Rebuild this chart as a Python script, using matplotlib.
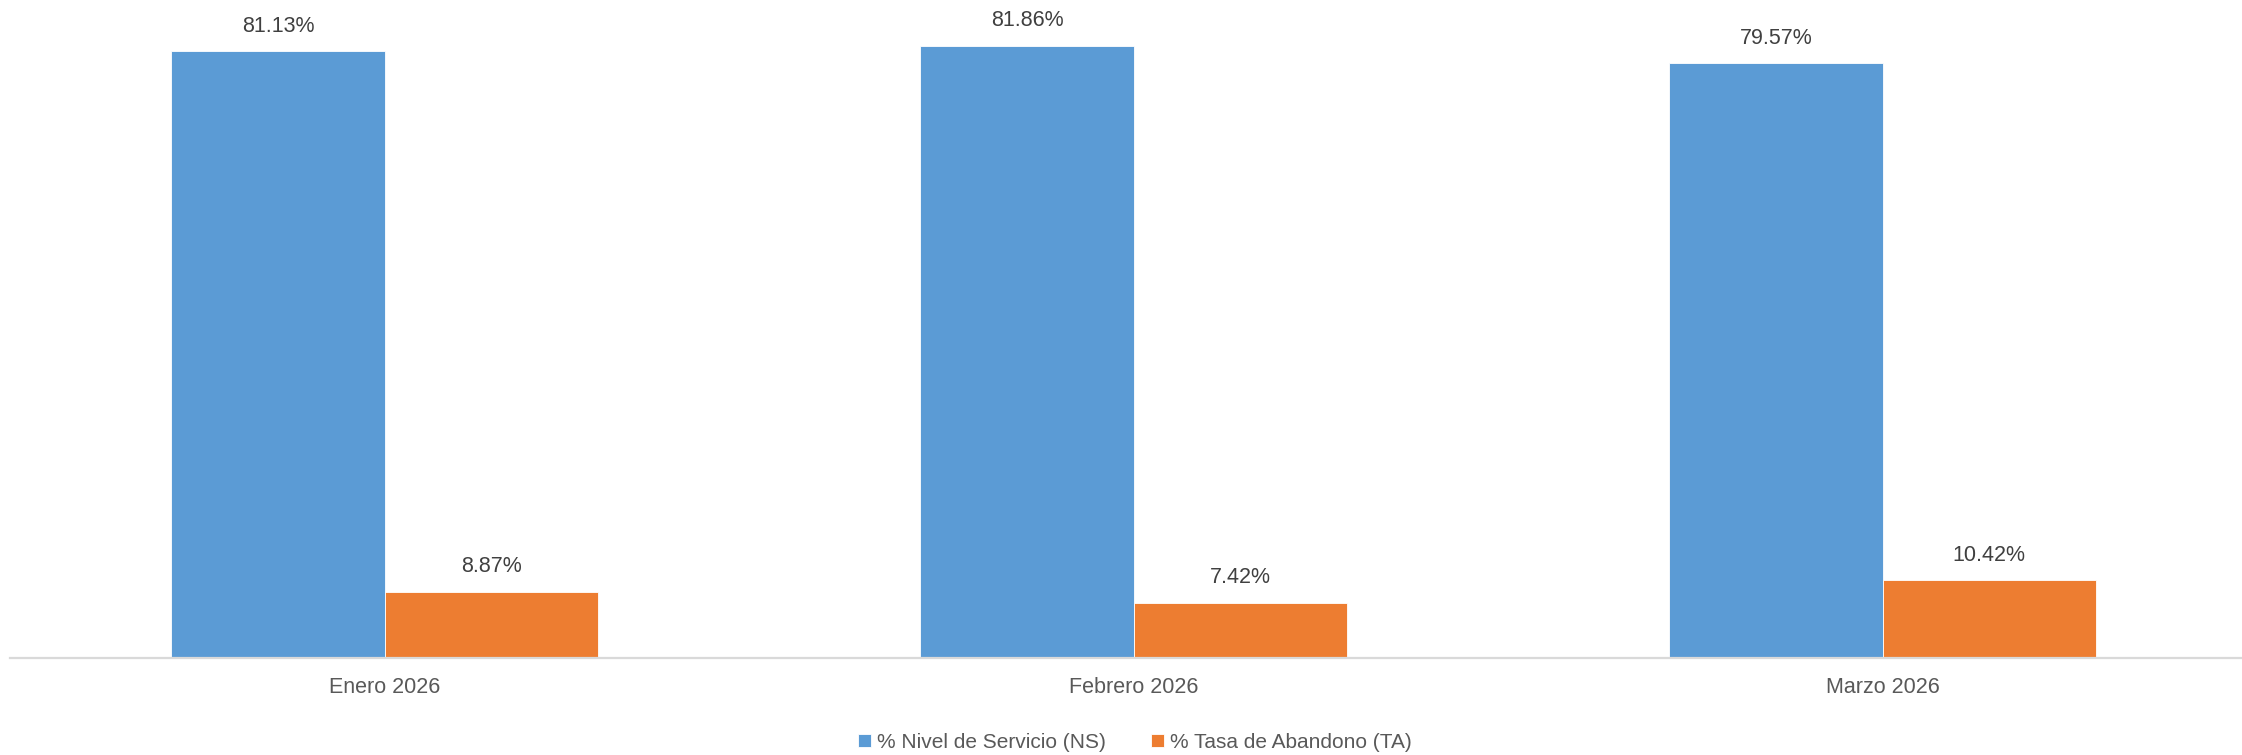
import matplotlib

matplotlib.use("Agg")

import matplotlib.pyplot as plt
import numpy as np

plt.rcParams["font.family"] = ["Liberation Sans", "DejaVu Sans"]

MONTHS = ["Enero 2026", "Febrero 2026", "Marzo 2026"]
NIVEL_SERVICIO = [81.13, 81.86, 79.57]
TASA_ABANDONO = [8.87, 7.42, 10.42]
SERIES_NAMES = ["% Nivel de Servicio (NS)", "% Tasa de Abandono (TA)"]
COLORS = ["#5B9BD5", "#ED7D31"]


def main():
    fig = plt.figure(figsize=(22.42, 7.55), dpi=100)
    # plot area runs a little past the right edge, as in the source export
    ax = fig.add_axes([10 / 2242, 97 / 755, 2247 / 2242, 658 / 755])

    x = np.arange(len(MONTHS))
    width = 0.2844
    for offset, values, name, color in [
        (-width / 2, NIVEL_SERVICIO, SERIES_NAMES[0], COLORS[0]),
        (width / 2, TASA_ABANDONO, SERIES_NAMES[1], COLORS[1]),
    ]:
        bars = ax.bar(x + offset, values, width, color=color, label=name,
                      edgecolor="white", linewidth=0.6)
        for bar, v in zip(bars, values):
            ax.annotate(f"{v:.2f}%", (bar.get_x() + bar.get_width() / 2, v),
                        xytext=(0, 18), textcoords="offset points",
                        ha="center", va="center", fontsize=15.5, color="#404040")

    ax.set_xlim(-0.5, len(MONTHS) - 0.5)
    ax.set_ylim(0, 88)
    ax.set_xticks(x)
    ax.set_xticklabels(MONTHS, fontsize=15.5, color="#595959")
    ax.tick_params(axis="x", length=0, pad=14)
    ax.set_yticks([])
    for side in ["top", "right", "left"]:
        ax.spines[side].set_visible(False)
    ax.spines["bottom"].set_color("#d9d9d9")
    ax.spines["bottom"].set_linewidth(1.6)

    fig.legend(loc="center", bbox_to_anchor=(1135 / 2242, 13 / 755), ncol=2,
               frameon=False, fontsize=15, handlelength=0.6, handleheight=0.6,
               handletextpad=0.3, columnspacing=2.2, labelcolor="#595959")

    fig.savefig("out.png", dpi=100)
    plt.close(fig)


if __name__ == "__main__":
    main()
